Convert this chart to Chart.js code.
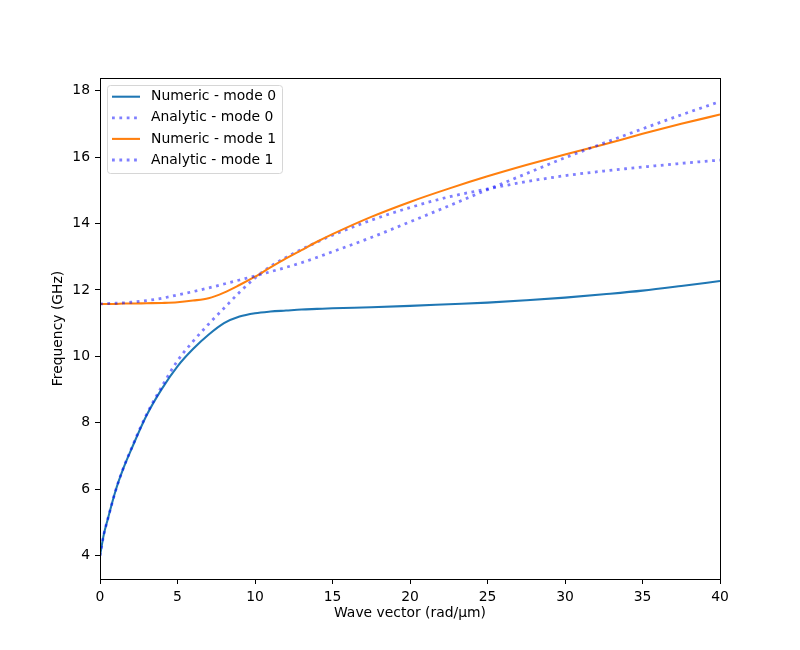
<!DOCTYPE html>
<html>
<head>
<meta charset="utf-8">
<script src="https://cdn.jsdelivr.net/npm/chart.js@4/dist/chart.umd.min.js"></script>
<style>
  html, body { margin: 0; padding: 0; background: #fff; }
  #wrap { width: 800px; height: 650px; }
</style>
</head>
<body>
<div id="wrap"><canvas id="dispersion" width="800" height="650"></canvas></div>
<script>
  // ── Data ──
  const waveVector = [0, 0.25, 0.5, 1, 1.5, 2, 3, 4, 5, 6, 7, 8, 9, 10, 11, 12, 13, 14, 15,
                      17.5, 20, 22.5, 25, 27.5, 30, 32.5, 35, 37.5, 40];

  const numericMode0 = [4.0, 4.65, 5.1, 5.95, 6.62, 7.18, 8.22, 9.03, 9.7, 10.22, 10.65, 11.0, 11.2, 11.3,
                        11.35, 11.38, 11.41, 11.43, 11.45, 11.48, 11.52, 11.57, 11.62, 11.69, 11.77,
                        11.87, 11.98, 12.12, 12.27];
  const analyticMode0 = [4.0, 4.65, 5.1, 5.95, 6.63, 7.2, 8.25, 9.1, 9.87, 10.45, 10.97, 11.45, 11.93, 12.36,
                         12.71, 12.98, 13.22, 13.44, 13.65, 14.1, 14.48, 14.8, 15.04, 15.26, 15.44,
                         15.58, 15.7, 15.81, 15.91];
  const numericMode1 = [11.58, 11.58, 11.58, 11.58, 11.59, 11.59, 11.6, 11.61, 11.63, 11.68, 11.75, 11.92,
                        12.15, 12.4, 12.68, 12.95, 13.2, 13.45, 13.68, 14.2, 14.65, 15.05, 15.42, 15.76,
                        16.08, 16.38, 16.7, 17.0, 17.28];
  const analyticMode1 = [11.58, 11.58, 11.59, 11.6, 11.61, 11.63, 11.68, 11.75, 11.85, 11.95, 12.06, 12.18,
                         12.3, 12.42, 12.55, 12.68, 12.82, 12.98, 13.15, 13.58, 14.05, 14.53, 15.02, 15.5,
                         15.98, 16.42, 16.85, 17.27, 17.67];

  const seriesLabels = ['Numeric - mode 0', 'Analytic - mode 0', 'Numeric - mode 1', 'Analytic - mode 1'];
  const xTicks = [0, 5, 10, 15, 20, 25, 30, 35, 40];
  const yTicks = [4, 6, 8, 10, 12, 14, 16, 18];

  // ── Styles ──
  const FONT = "'DejaVu Sans', sans-serif";
  const BLUE = '#1f77b4';
  const ORANGE = '#ff7f0e';
  const DOTS = 'rgba(0,0,255,0.5)';
  const SOLID_W = 2.08;
  const DOT_W = 2.78;
  const DOT_DASH = [2.78, 4.58];

  const toPoints = ys => ys.map((y, i) => ({ x: waveVector[i], y }));

  function lineSet(label, ys, color, dotted, order) {
    return {
      label,
      data: toPoints(ys),
      borderColor: color,
      backgroundColor: color,
      borderWidth: dotted ? DOT_W : SOLID_W,
      borderDash: dotted ? DOT_DASH : [],
      borderCapStyle: 'butt',
      pointRadius: 0,
      cubicInterpolationMode: 'monotone',
      fill: false,
      order,
    };
  }

  // Frame round the plot area (matplotlib spines)
  const framePlugin = {
    id: 'frame',
    afterDatasetsDraw(chart) {
      const { ctx, chartArea: a } = chart;
      ctx.save();
      ctx.strokeStyle = '#000';
      ctx.lineWidth = 1;
      ctx.strokeRect(a.left + 0.5, a.top + 0.5, a.right - a.left, a.bottom - a.top);
      ctx.restore();
    }
  };

  // Legend inside the plot, upper left
  const insideLegend = {
    id: 'insideLegend',
    afterDraw(chart) {
      const { ctx, chartArea: a } = chart;
      const x0 = a.left + 7.5, y0 = a.top + 7.5, w = 175, h = 88, r = 3;
      ctx.save();
      ctx.beginPath();
      ctx.roundRect(x0, y0, w, h, r);
      ctx.fillStyle = 'rgba(255,255,255,0.8)';
      ctx.fill();
      ctx.strokeStyle = '#d6d6d6';
      ctx.lineWidth = 1;
      ctx.stroke();

      ctx.font = `13.9px ${FONT}`;
      ctx.textBaseline = 'middle';
      ctx.fillStyle = '#000';
      chart.data.datasets.forEach((ds, i) => {
        const y = a.top + 18.7 + i * 21.1;
        ctx.beginPath();
        ctx.setLineDash(ds.borderDash);
        ctx.lineCap = 'butt';
        ctx.strokeStyle = ds.borderColor;
        ctx.lineWidth = ds.borderWidth;
        ctx.moveTo(a.left + 12, y);
        ctx.lineTo(a.left + 40, y);
        ctx.stroke();
        ctx.setLineDash([]);
        ctx.fillText(ds.label, a.left + 51, y);
      });
      ctx.restore();
    }
  };

  const axisTicks = {
    color: '#000',
    font: { family: FONT, size: 13.9 },
    padding: 5,
    maxRotation: 0,
    autoSkip: false,
  };
  const axisGrid = {
    drawOnChartArea: false,
    drawTicks: true,
    tickLength: 5,
    color: '#000',
    lineWidth: 1,
  };

  new Chart(document.getElementById('dispersion'), {
    type: 'line',
    data: {
      datasets: [
        lineSet(seriesLabels[0], numericMode0, BLUE, false, 3),
        lineSet(seriesLabels[1], analyticMode0, DOTS, true, 2),
        lineSet(seriesLabels[2], numericMode1, ORANGE, false, 1),
        lineSet(seriesLabels[3], analyticMode1, DOTS, true, 0),
      ]
    },
    options: {
      responsive: false,
      animation: false,
      events: [],
      layout: { padding: { left: 50, right: 80, top: 78, bottom: 28 } },
      plugins: {
        legend: { display: false },
        tooltip: { enabled: false },
      },
      scales: {
        x: {
          type: 'linear',
          min: 0,
          max: 40,
          afterBuildTicks: axis => { axis.ticks = xTicks.map(v => ({ value: v })); },
          afterFit: axis => { axis.height = 43; },
          ticks: axisTicks,
          grid: axisGrid,
          border: { display: false },
          title: {
            display: true,
            text: 'Wave vector (rad/μm)',
            color: '#000',
            font: { family: FONT, size: 13.9 },
            padding: { top: 0, bottom: 0 },
          },
        },
        y: {
          type: 'linear',
          min: 3.30,
          max: 18.38,
          afterBuildTicks: axis => { axis.ticks = yTicks.map(v => ({ value: v })); },
          afterFit: axis => { axis.width = 50; },
          ticks: axisTicks,
          grid: axisGrid,
          border: { display: false },
          title: {
            display: true,
            text: 'Frequency (GHz)',
            color: '#000',
            font: { family: FONT, size: 13.9 },
            padding: { top: 0, bottom: 0 },
          },
        },
      },
    },
    plugins: [framePlugin, insideLegend],
  });
</script>
</body>
</html>
